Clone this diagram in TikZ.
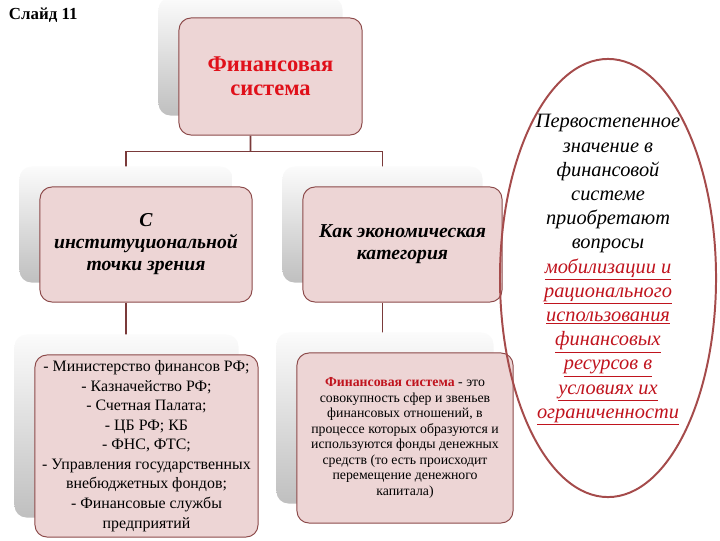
\documentclass[tikz,border=0pt]{standalone}
\usepackage{fontspec}
\setmainfont{Liberation Serif}
\usetikzlibrary{shapes.geometric,calc}
\definecolor{boxfill}{HTML}{EDD5D5}
\definecolor{boxline}{HTML}{8C4A4A}
\definecolor{linkcol}{HTML}{7A3A3A}
\definecolor{ovalcol}{HTML}{A54B4B}
\definecolor{titlered}{HTML}{E0101A}
\definecolor{notered}{HTML}{C0141E}
\pgfdeclarelayer{links}
\pgfdeclarelayer{shadows}
\pgfsetlayers{links,shadows,main}
\tikzset{
	card/.style={draw=boxline, fill=boxfill, rounded corners=0.3cm, line width=0.7pt, align=center, inner sep=2pt},
	link/.style={draw=linkcol, line width=1.3pt},
	cardshadow/.style={rounded corners=0.3cm, top color=gray!3, bottom color=gray!50},
	oval/.style={ellipse, draw=ovalcol, line width=1.4pt}
}
\newcommand{\shadowof}[1]{\shade[cardshadow] ([shift={(-0.5cm,0.5cm)}]#1.south west) rectangle ([shift={(-0.5cm,0.5cm)}]#1.north east);}
\newcommand{\redline}[1]{\textcolor{notered}{\underline{#1}}}

\begin{document}
\begin{tikzpicture}[x=0.025cm, y=-0.025cm]
	\useasboundingbox (0,0) rectangle (720,540);
	\node[font=\bfseries\fontsize{12}{14}\selectfont, anchor=west] (slide) at (4,15) {Слайд 11};
	\node[card, minimum width=4.575cm, minimum height=2.925cm, text=titlered, font=\bfseries\fontsize{16}{17}\selectfont] (fin) at (270.5,76.5) {Финансовая\\система};
	\node[card, minimum width=5.3cm, minimum height=2.875cm, font=\bfseries\itshape\fontsize{14}{15.6}\selectfont] (inst) at (146,244.5) {С\\институциональной\\точки зрения};
	\node[card, minimum width=4.975cm, minimum height=2.875cm, font=\bfseries\itshape\fontsize{14}{15.6}\selectfont] (econ) at (402.5,244.5) {Как экономическая\\категория};
	\node[card, minimum width=5.575cm, minimum height=4.55cm, font=\fontsize{11.3}{13.9}\selectfont] (orgs) at (146.5,446) {- Министерство финансов РФ;\\- Казначейство РФ;\\- Счетная Палата;\\- ЦБ РФ; КБ\\- ФНС, ФТС;\\- Управления государственных\\внебюджетных фондов;\\- Финансовые службы\\предприятий};
	\node[card, minimum width=5.4cm, minimum height=4.25cm, font=\fontsize{9.8}{11}\selectfont] (defn) at (405,438) {\textcolor{notered}{\textbf{Финансовая система}} - это\\совокупность сфер и звеньев\\финансовых отношений, в\\процессе которых образуются и\\используются фонды денежных\\средств (то есть происходит\\перемещение денежного\\капитала)};
	\node[oval, minimum width=5.4cm, minimum height=10.95cm] (oval) at (608,278) {};
	\node[align=center, font=\itshape\fontsize{14.5}{17.2}\selectfont] (note) at (608,270) {Первостепенное\\значение в\\финансовой\\системе\\приобретают\\вопросы\\
		\redline{мобилизации и}\\\redline{рационального}\\\redline{использования}\\\redline{финансовых}\\\redline{ресурсов в}\\\redline{условиях их}\\\redline{ограниченности}};
	\coordinate (split) at ($(fin.south)+(-20,16)$);
	\begin{pgfonlayer}{shadows}
		\shadowof{fin}
		\shadowof{inst}
		\shadowof{econ}
		\shadowof{orgs}
		\shadowof{defn}
	\end{pgfonlayer}
	\begin{pgfonlayer}{links}
		\draw[link] ([xshift=-0.5cm]fin.south) -- (split);
		\draw[link] ([xshift=-0.5cm]inst.north) |- (split) -| ([xshift=-0.5cm]econ.north);
		\draw[link] ([xshift=-0.5cm]inst.south) -- ([xshift=-0.5cm]inst.south |- orgs.north);
		\draw[link] ([xshift=-0.5cm]econ.south) -- ([xshift=-0.5cm]econ.south |- defn.north);
	\end{pgfonlayer}
\end{tikzpicture}
\end{document}
